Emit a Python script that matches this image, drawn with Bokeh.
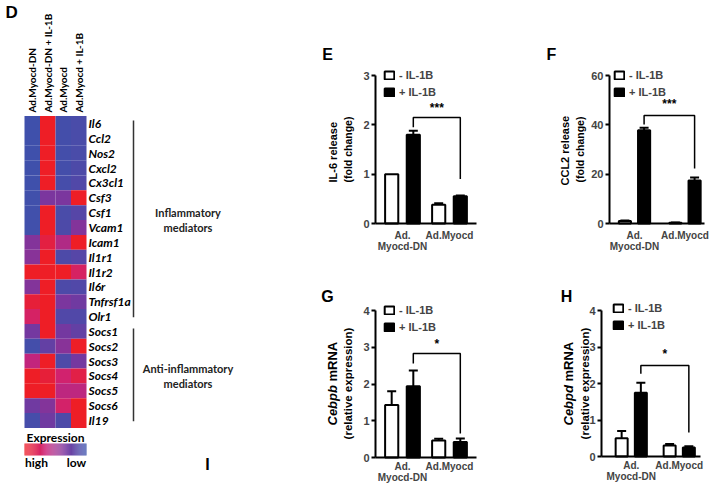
import numpy as np
from bokeh.plotting import figure
from bokeh.models import (Range1d, FixedTicker, Legend, LegendItem, Whisker, TeeHead,
                          ColumnDataSource, LinearColorMapper)
from bokeh.layouts import row, column
from bokeh.embed import file_html
from bokeh.resources import INLINE
from bokeh.core.properties import value

# ---------------- data ----------------
genes = ["Il6", "Ccl2", "Nos2", "Cxcl2", "Cx3cl1", "Csf3", "Csf1", "Vcam1", "Icam1",
         "Il1r1", "Il1r2", "Il6r", "Tnfrsf1a", "Olr1", "Socs1", "Socs2", "Socs3",
         "Socs4", "Socs5", "Socs6", "Il19"]
conditions = ["Ad.Myocd-DN", "Ad.Myocd-DN + IL-1B", "Ad.Myocd", "Ad.Myocd + IL-1B"]
# relative expression, 1 = high (red), 0 = low (blue)
expr_dn =        [0.02, 0.02, 0.02, 0.02, 0.02, 0.03, 0.03, 0.03, 0.38, 0.40, 1.00,
                  0.38, 0.92, 0.74, 0.32, 0.05, 0.62, 1.00, 1.00, 0.30, 0.06]
expr_dn_il1b =   [1.00, 1.00, 1.00, 1.00, 1.00, 0.35, 1.00, 1.00, 0.88, 1.00, 1.00,
                  1.00, 1.00, 1.00, 1.00, 0.22, 1.00, 0.92, 1.00, 0.38, 0.30]
expr_myocd =     [0.05, 0.05, 0.05, 0.05, 0.06, 0.35, 0.08, 0.10, 0.55, 0.10, 1.00,
                  0.10, 0.35, 0.12, 0.32, 0.40, 0.10, 0.70, 0.60, 0.72, 0.10]
expr_myocd_il1b = [0.08, 0.08, 0.08, 0.10, 0.12, 1.00, 0.15, 0.38, 1.00, 0.15, 0.75,
                   0.12, 0.30, 0.12, 0.22, 1.00, 0.32, 0.86, 0.60, 1.00, 1.00]
inflammatory = (0, 13)      # first / last gene row of the group
anti_inflammatory = (14, 20)

groups = ["Ad.\nMyocd-DN", "Ad.Myocd"]
treatments = ["- IL-1B", "+ IL-1B"]

il6_minus, il6_minus_err = [1.00, 0.38], [0.00, 0.03]
il6_plus, il6_plus_err = [1.80, 0.55], [0.08, 0.02]
il6_bracket = [1.95, 2.15, 0.90]

ccl2_minus, ccl2_minus_err = [1.0, 0.3], [0.2, 0.1]
ccl2_plus, ccl2_plus_err = [37.8, 17.4], [1.0, 1.2]
ccl2_bracket = [40.1, 43.8, 22.3]

cebpb_minus, cebpb_minus_err = [1.43, 0.46], [0.37, 0.05]
cebpb_plus, cebpb_plus_err = [1.94, 0.42], [0.43, 0.10]
cebpb_bracket = [2.56, 2.83, 0.65]

cebpd_minus, cebpd_minus_err = [0.50, 0.30], [0.20, 0.04]
cebpd_plus, cebpd_plus_err = [1.75, 0.25], [0.27, 0.03]
cebpd_bracket = [2.27, 2.49, 0.66]

SANS = "Liberation Sans"
HEAT = "Lato"

# ---------------- heat-map palette ----------------
stops = [(0.0, (60, 82, 172)), (0.33, (118, 55, 160)), (0.66, (205, 35, 120)), (1.0, (238, 30, 38))]
palette = []
for t in np.linspace(0, 1, 256):
    for (t0, c0), (t1, c1) in zip(stops[:-1], stops[1:]):
        if t0 <= t <= t1:
            f = (t - t0) / (t1 - t0)
            c = [int(round(a + (b - a) * f)) for a, b in zip(c0, c1)]
            palette.append("#%02x%02x%02x" % tuple(c))
            break
mapper = LinearColorMapper(palette=palette, low=0, high=1)


def make_fig(ox, oy, w, h, xcal, ycal):
    """Figure whose frame fills the whole canvas; ranges calibrated from page pixels."""
    (xa, va), (xb, vb) = xcal
    kx = (vb - va) / (xb - xa)
    (ya, wa), (yb, wb) = ycal
    ky = (wb - wa) / (yb - ya)
    fx = lambda px: va + (px - xa) * kx
    fy = lambda py: wa + (py - ya) * ky
    p = figure(width=w, height=h, x_range=Range1d(fx(ox), fx(ox + w)),
               y_range=Range1d(fy(oy + h), fy(oy)), output_backend="svg", toolbar_location=None,
               min_border_left=0, min_border_right=0, min_border_top=0, min_border_bottom=0)
    p.outline_line_color = None
    p.grid.visible = False
    p.title.visible = False
    p.background_fill_color = "white"
    p.border_fill_color = "white"
    return p, fx, fy


def txt(p, x, y, s, size, font=SANS, style="bold", align="center", angle=0.0, color="black",
        baseline="middle", **kw):
    p.text(x=[x], y=[y], text=[s], text_align=align, text_baseline=baseline, angle=angle,
           text_font=value(font), text_font_style=style, text_font_size=size, text_color=color, **kw)


# ---------------- panel D ----------------
nrow = len(genes)
pD, dx, dy = make_fig(0, 0, 320, 486, ((24, -0.5), (86, 3.5)), ((115.6, -0.5), (427.4, nrow - 0.5)))
pD.xaxis.visible = False
pD.yaxis.visible = False

cols = [expr_dn, expr_dn_il1b, expr_myocd, expr_myocd_il1b]
hx, hy, hv = [], [], []
for ci, vals in enumerate(cols):
    for ri, v in enumerate(vals):
        hx.append(ci); hy.append(ri); hv.append(v)
pD.rect(x="x", y="y", width=1, height=1, source=ColumnDataSource(dict(x=hx, y=hy, v=hv)),
        fill_color={"field": "v", "transform": mapper}, line_color=None)

pD.text(x=[len(cols) - 0.5] * nrow, y=list(range(nrow)), text=genes, x_offset=2, text_baseline="middle",
        text_font=value(HEAT), text_font_style="bold italic", text_font_size="12px", text_color="black")
pD.text(x=list(range(len(cols))), y=[-0.5] * len(cols), text=conditions, angle=np.pi / 2, x_offset=0,
        y_offset=-3.5, text_align="left", text_baseline="middle", text_font=value(HEAT),
        text_font_style="bold", text_font_size="10px", text_color="black")

brx = dx(133)
for (a, b) in (inflammatory, anti_inflammatory):
    pD.segment(x0=[brx], x1=[brx], y0=[a - 0.2], y1=[b + 0.05], line_color="#333333", line_width=1.5)
gx = dx(187.5)
for (a, b), lines in ((inflammatory, ["Inflammatory", "mediators"]),
                      (anti_inflammatory, ["Anti-inflammatory", "mediators"])):
    mid = (a + b) / 2
    txt(pD, gx, mid - 0.5, lines[0], "11px", font=HEAT, color="#222222")
    txt(pD, gx, mid + 0.5, lines[1], "11px", font=HEAT, color="#222222")

# colour key
nk = 64
kv = np.linspace(1, 0, nk)
edges = np.linspace(-0.5, len(cols) - 0.5, nk + 1)
pD.quad(left="l", right="r", top=dy(443), bottom=dy(455),
        fill_color={"field": "v", "transform": mapper}, line_color=None,
        source=ColumnDataSource(dict(v=kv, l=edges[:-1], r=edges[1:])))
txt(pD, dx(55), dy(437), "Expression", "12px", font=HEAT)
txt(pD, dx(36), dy(462), "high", "12px", font=HEAT)
txt(pD, dx(76), dy(462), "low", "12px", font=HEAT)
txt(pD, dx(5), dy(12), "D", "17px", align="left")
txt(pD, dx(207), dy(464), "I", "16px")


# ---------------- bar panels ----------------
def bar_panel(ox, oy, w, h, xcal, ycal, ax_px, ymax, ticks, minus, minus_err, plus, plus_err,
              off, bw, bracket, star, star_y, letter, letter_px, ylab, ylab2, ylab_px, ylab_size,
              ylab2_size, leg_px, xstand):
    p, fx, fy = make_fig(ox, oy, w, h, xcal, ycal)

    pos = np.arange(len(groups))
    src_m = ColumnDataSource(dict(x=pos - off, top=minus))
    src_p = ColumnDataSource(dict(x=pos + off, top=plus))
    r_m = p.vbar(x="x", top="top", bottom=0, width=bw, source=src_m, fill_color="white",
                 line_color="black", line_width=2)
    r_p = p.vbar(x="x", top="top", bottom=0, width=bw, source=src_p, fill_color="black",
                 line_color="black", line_width=2)
    for xs, tops, errs in ((pos - off, minus, minus_err), (pos + off, plus, plus_err)):
        keep = [i for i, e in enumerate(errs) if e > 0]
        if not keep:
            continue
        ws = ColumnDataSource(dict(x=[float(xs[i]) for i in keep], lower=[tops[i] for i in keep],
                                   upper=[tops[i] + errs[i] for i in keep]))
        p.add_layout(Whisker(base="x", lower="lower", upper="upper", source=ws, dimension="height",
                             line_width=2, line_color="black",
                             upper_head=TeeHead(size=9, line_width=2, line_color="black"),
                             lower_head=None))

    bx = [pos[0] + off, pos[0] + off, pos[1] + off, pos[1] + off]
    by = [bracket[0], bracket[1], bracket[1], bracket[2]]
    p.line(x=bx, y=by, line_color="black", line_width=1.5)
    txt(p, (pos[0] + pos[1]) / 2 + off, star_y, star, "12px")

    x_lo, x_hi = fx(ax_px[0]), fx(ax_px[1])
    yax = p.yaxis[0]
    yax.fixed_location = x_lo
    yax.bounds = (0, ymax)
    yax.ticker = FixedTicker(ticks=ticks)
    yax.axis_line_width = 2
    yax.major_tick_line_width = 2
    yax.major_tick_out = 4
    yax.major_tick_in = 0
    yax.minor_tick_line_color = None
    yax.major_label_text_font = SANS
    yax.major_label_text_font_style = "bold"
    yax.major_label_text_font_size = "11px"
    yax.major_label_standoff = 2

    xax = p.xaxis[0]
    xax.fixed_location = 0
    xax.bounds = (x_lo, x_hi)
    xax.ticker = FixedTicker(ticks=[int(i) for i in pos])
    xax.major_label_overrides = {int(i): g for i, g in zip(pos, groups)}
    xax.axis_line_width = 2
    xax.major_tick_line_color = None
    xax.minor_tick_line_color = None
    xax.major_label_text_font = SANS
    xax.major_label_text_font_style = "bold"
    xax.major_label_text_font_size = "10px"
    xax.major_label_standoff = xstand
    xax.major_label_text_line_height = 1.0

    leg = Legend(items=[LegendItem(label=treatments[0], renderers=[r_m]),
                        LegendItem(label=treatments[1], renderers=[r_p])],
                 location=(leg_px[0] - ox, oy + h - leg_px[1]), glyph_width=12, glyph_height=10,
                 label_height=10, label_standoff=4, spacing=5, padding=0, margin=0,
                 label_text_font=SANS, label_text_font_style="bold", label_text_font_size="11px",
                 border_line_alpha=0, background_fill_alpha=0)
    p.add_layout(leg)

    # y-axis title: first line may mix italic and upright parts (reads bottom to top)
    total = sum(wd for _, _, wd in ylab)
    start = ylab_px[2] + total / 2
    for s, style, wd in ylab:
        txt(p, fx(ylab_px[0]), fy(start), s, ylab_size, style=style, align="left", angle=np.pi / 2)
        start -= wd
    txt(p, fx(ylab_px[1]), fy(ylab_px[2]), ylab2, ylab2_size, angle=np.pi / 2)
    txt(p, fx(letter_px[0]), fy(letter_px[1]), letter, "16px")
    return p


pE = bar_panel(320, 0, 220, 258, ((402, 0), (449, 1)), ((223, 0), (75, 3)), (375, 476), 3, [0, 1, 2, 3],
               il6_minus, il6_minus_err, il6_plus, il6_plus_err, 0.23, 0.28, il6_bracket, "***", 2.35,
               "E", (327, 54), [("IL-6 release", "bold", 66)], "(fold change)", (332, 347, 149),
               "11px", "10.5px", (383, 98), 0)
pF = bar_panel(540, 0, 172, 258, ((634, 0), (684.5, 1)), ((223, 0), (75, 60)), (609, 704), 60,
               [0, 20, 40, 60], ccl2_minus, ccl2_minus_err, ccl2_plus, ccl2_plus_err, 0.19, 0.24,
               ccl2_bracket, "***", 48.6, "F", (551, 54), [("CCL2 release", "bold", 72)], "(fold change)",
               (564, 579, 149), "11px", "10.5px", (613, 98), 0)
pG = bar_panel(320, 258, 220, 228, ((402, 0), (449, 1)), ((457, 0), (310, 4)), (375, 476), 4,
               [0, 1, 2, 3, 4], cebpb_minus, cebpb_minus_err, cebpb_plus, cebpb_plus_err, 0.23, 0.28,
               cebpb_bracket, "*", 3.1, "G", (327, 296), [("Cebpb", "bold italic", 44), ("mRNA", "bold", 40)],
               "(relative expression)", (332, 347.5, 383), "13px", "11.5px", (383, 333), -3)
pH = bar_panel(540, 258, 172, 228, ((630.75, 0), (678.75, 1)), ((456, 0), (310, 4)), (601, 700), 4,
               [0, 1, 2, 3, 4], cebpd_minus, cebpd_minus_err, cebpd_plus, cebpd_plus_err, 0.2, 0.25,
               cebpd_bracket, "*", 2.82, "H", (566, 296), [("Cebpd", "bold italic", 44), ("mRNA", "bold", 40)],
               "(relative expression)", (568, 584, 383), "13px", "11.5px", (612, 331), -3)

layout = row(pD, column(pE, pG), column(pF, pH))
open("out.html", "w").write(file_html(layout, INLINE))
